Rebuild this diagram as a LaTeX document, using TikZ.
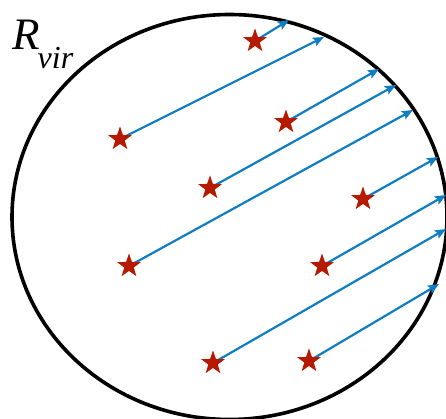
\documentclass[tikz,border=0pt]{standalone}
\usepackage{fontspec}
\newfontfamily\timesfont{Liberation Serif}
\usetikzlibrary{shapes.geometric,arrows.meta}
\definecolor{starred}{HTML}{B41A00}
\definecolor{arrowblue}{HTML}{0F7DC2}
\tikzset{
  starmark/.style={star, star points=5, star point ratio=2.5, fill=starred, draw=none, inner sep=0pt, minimum size=25pt},
  vel/.style={draw=arrowblue, line width=2.2pt, -{Stealth[length=11pt,width=9pt,inset=2pt]}},
  halo/.style={draw=black, line width=3.6pt}
}
\begin{document}
\begin{tikzpicture}[x=1pt,y=-1pt]
\useasboundingbox (0,0) rectangle (446,419);
\node[minimum width=435pt, minimum height=405pt, ellipse, halo, inner sep=0pt] (halo) at (229.5,217) {};
\node[anchor=base west, inner sep=0pt] (rvir) at (12,50) {\timesfont\fontsize{45}{50}\selectfont\itshape R\kern-2pt\raisebox{-19pt}{\fontsize{32}{36}\selectfont vir}};
% stars positions
\coordinate (p1) at (255,41);
\coordinate (p2) at (120,139);
\coordinate (p3) at (286,122);
\coordinate (p4) at (210,188);
\coordinate (p5) at (363,199);
\coordinate (p6) at (129,266);
\coordinate (p7) at (322,266);
\coordinate (p8) at (213,363);
\coordinate (p9) at (309,361);
% arrow tips
\coordinate (t1) at (289,20);
\coordinate (t2) at (324,37);
\coordinate (t3) at (379,69);
\coordinate (t4) at (396,85);
\coordinate (t5) at (438,157);
\coordinate (t6) at (413,110);
\coordinate (t7) at (446,195);
\coordinate (t8) at (446,229);
\coordinate (t9) at (439,284);
\foreach \i in {1,...,9} {
  \draw[vel] (p\i) -- (t\i);
}
\foreach \i in {1,...,9} {
  \node[starmark] (s\i) at (p\i) {};
}
\end{tikzpicture}
\end{document}
